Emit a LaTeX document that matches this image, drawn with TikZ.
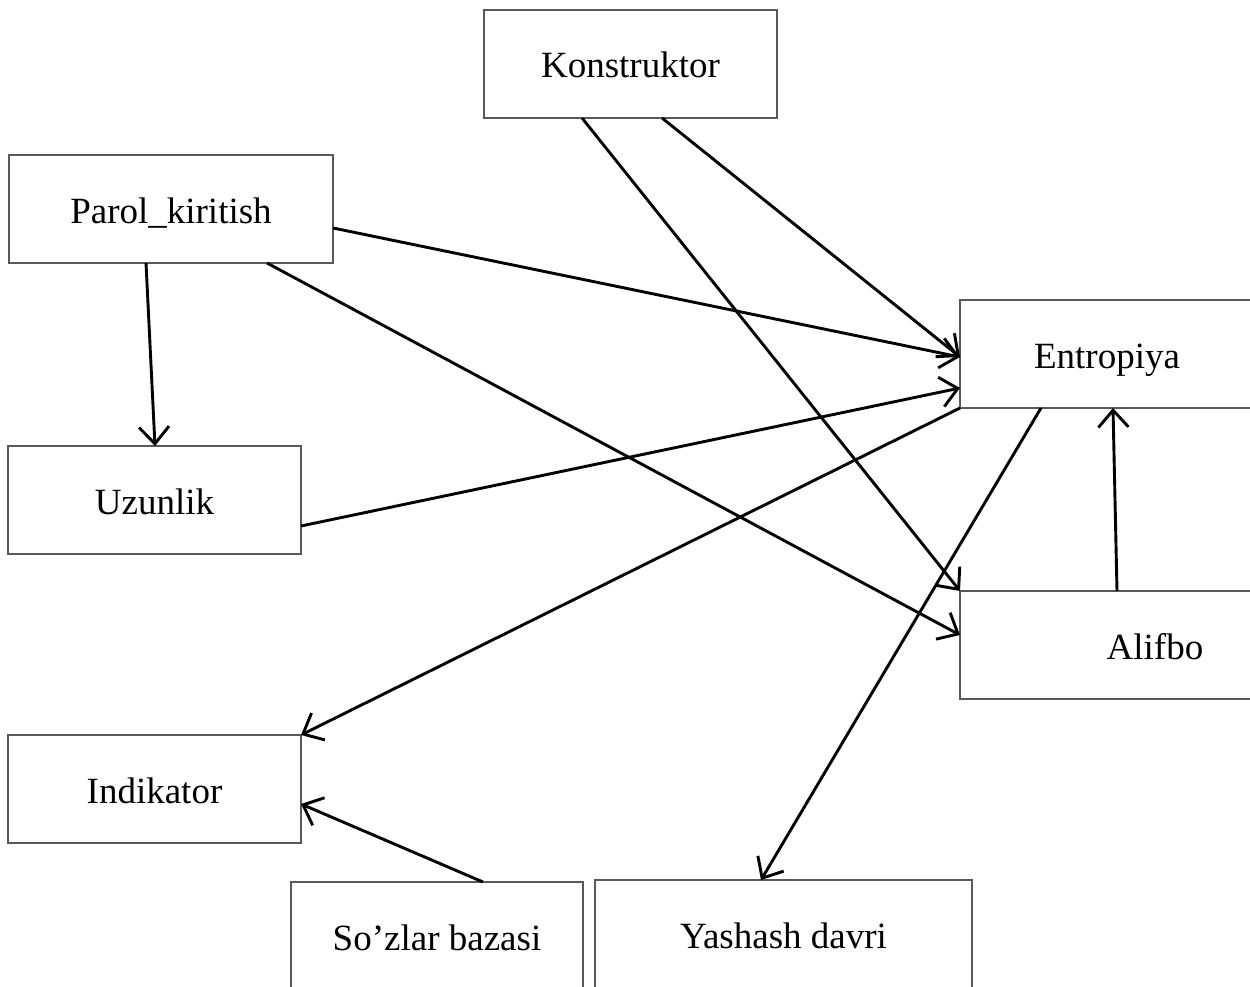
\documentclass[tikz,border=0pt]{standalone}
\usepackage{fontspec}
\setmainfont{Liberation Serif}
\usetikzlibrary{arrows.meta}
\begin{document}
\begin{tikzpicture}[x=1pt,y=-1pt,
  box/.style={draw=black!65, line width=1.4pt, rectangle, anchor=north west,
    minimum height=108pt, inner sep=0pt, outer sep=0pt,
    text height=28pt, text depth=0pt,
    font=\fontsize{37}{44}\selectfont},
  link/.style={line width=2.9pt, black,
    -{Straight Barb[length=17pt,width=30pt,line width=2.9pt]}}]
\useasboundingbox (0,0) rectangle (1250,987);
\clip (0,0) rectangle (1250,987);
\fill[white] (0,0) rectangle (1250,987);
% blocks
\node[box, minimum width=293pt] (kon) at (484,10) {Konstruktor};
\node[box, minimum width=324pt] (par) at (9,155) {Parol\_kiritish};
\node[box, minimum width=294pt] (ent) at (960,300) {Entropiya};
\node[box, minimum width=293pt] (uz)  at (8,446) {Uzunlik};
\node[box, minimum width=390pt] (alif) at (960,591) {Alifbo};
\node[box, minimum width=293pt] (ind) at (8,735) {Indikator};
\node[box, minimum width=292pt] (soz) at (291,882) {So’zlar bazasi};
\node[box, minimum width=377pt] (yash) at (595,880) {Yashash davri};
% links
\draw[link] ([xshift=98pt]kon.south west) -- (alif.north west);
\draw[link] ([xshift=178pt]kon.south west) -- ([yshift=-3pt]ent.west);
\draw[link] ([yshift=-19pt]par.east) -- ([yshift=-3pt]ent.west);
\draw[link] ([xshift=258pt]par.south west) -- ([yshift=-44pt]alif.north west);
\draw[link] ([xshift=137pt]par.south west) -- ([xshift=147pt]uz.north west);
\draw[link] ([yshift=28pt]uz.south east) -- ([yshift=20pt]ent.south west);
\draw[link] (ent.south west) -- (ind.north east);
\draw[link] ([xshift=81pt]ent.south west) -- ([xshift=166pt]yash.north west);
\draw[link] ([xshift=157pt]alif.north west) -- ([xshift=153pt]ent.south west);
\draw[link] ([xshift=192pt]soz.north west) -- ([yshift=-69pt]ind.north east);
\end{tikzpicture}
\end{document}
